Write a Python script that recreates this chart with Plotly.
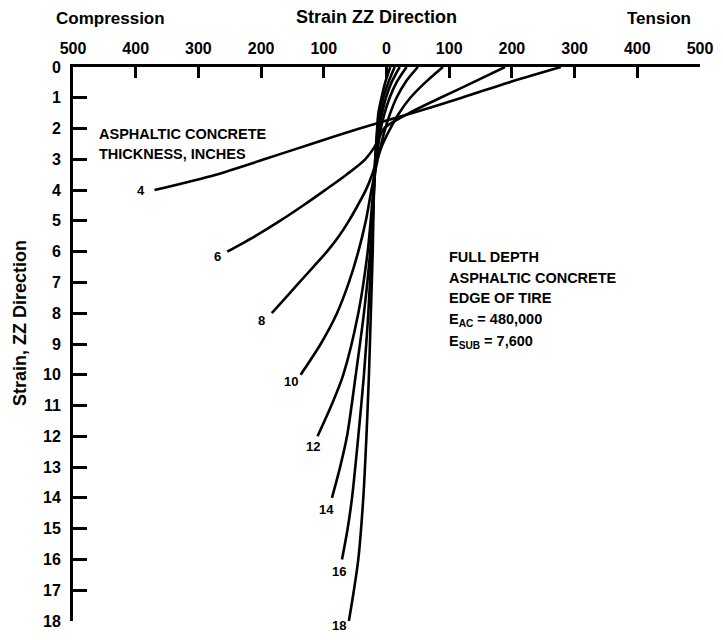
import plotly.graph_objects as go

# ---------------- data ----------------
thickness = [4, 6, 8, 10, 12, 14, 16, 18]

depth_4 = [0, 0.5, 1, 1.5, 2, 2.5, 3, 3.5, 4]
strain_4 = [278, 195, 120, 40, -43, -120, -195, -272, -370]

depth_6 = [0, 0.5, 1, 1.5, 2, 2.5, 3, 3.5, 4, 4.5, 5, 5.5, 6]
strain_6 = [189, 138, 86, 36, -4, -16, -34, -64, -98, -133, -170, -210, -254]

depth_8 = [0, 0.5, 1, 1.5, 2, 2.5, 3, 3.5, 4, 4.5, 5, 5.5, 6, 6.5, 7, 7.5, 8]
strain_8 = [90, 62, 38, 20, 6, -6, -15, -23, -33, -46, -60, -76, -95, -117, -139, -161, -183]

depth_10 = [0, 0.5, 1, 1.5, 2, 3, 4, 5, 6, 7, 8, 9, 10]
strain_10 = [50, 30, 16, 6, -2, -14, -24, -33, -45, -60, -79, -105, -137]

depth_12 = [0, 0.5, 1, 1.5, 2, 3, 4, 6, 8, 10, 11, 12]
strain_12 = [32, 16, 5, -3, -9, -16, -21, -30, -45, -69, -88, -110]

depth_14 = [0, 0.5, 1, 1.5, 2, 3, 4, 6, 8, 10, 12, 13, 14]
strain_14 = [21, 8, -1, -7, -12, -17, -20, -26, -36, -49, -63, -74, -87]

depth_16 = [0, 0.5, 1, 1.5, 2, 3, 4, 6, 8, 10, 12, 14, 15, 16]
strain_16 = [13, 3, -5, -10, -14, -18, -20, -24, -29, -36, -45, -55, -62, -71]

depth_18 = [0, 0.5, 1, 1.5, 2, 3, 4, 6, 8, 10, 12, 14, 16, 17, 18]
strain_18 = [6, -2, -8, -13, -15, -18, -20, -22, -25, -28, -32, -37, -45, -52, -60]

x_tickvals = [-500, -400, -300, -200, -100, 0, 100, 200, 300, 400, 500]
x_ticktext = ["500", "400", "300", "200", "100", "0", "100", "200", "300", "400", "500"]
y_tickvals = list(range(0, 19))
y_ticktext = [str(v) for v in y_tickvals]

depths = [depth_4, depth_6, depth_8, depth_10, depth_12, depth_14, depth_16, depth_18]
strains = [strain_4, strain_6, strain_8, strain_10, strain_12, strain_14, strain_16, strain_18]

# ---------------- styling ----------------
label_xshift = [-14, -10, -10, -10, -5, -5, -3, -10]
label_yshift = [0, -5, -7, -7, -10, -12, -12, -4]

FONT = "Liberation Sans, Arial, sans-serif"

fig = go.Figure()
for d, s in zip(depths, strains):
    fig.add_trace(go.Scatter(
        x=s, y=d, mode="lines",
        line=dict(color="black", width=2.6, shape="spline", smoothing=0.8),
        hoverinfo="skip", showlegend=False,
    ))

for t, d, s, dx, dy in zip(thickness, depths, strains, label_xshift, label_yshift):
    fig.add_annotation(
        x=s[-1], y=d[-1], xref="x", yref="y", text=str(t), showarrow=False,
        xshift=dx, yshift=dy,
        font=dict(family=FONT, size=13, color="black", weight="bold"),
    )

fig.update_layout(
    width=723, height=640,
    margin=dict(l=73, r=20, t=67, b=10),
    plot_bgcolor="white", paper_bgcolor="white",
    showlegend=False,
    xaxis=dict(
        side="top", range=[-500, 500],
        tickvals=x_tickvals, ticktext=x_ticktext,
        ticks="inside", ticklen=11, tickwidth=2.5, tickcolor="black",
        showline=True, linewidth=3, linecolor="black",
        showgrid=False, zeroline=False,
        tickfont=dict(family=FONT, size=16, color="black", weight="bold"),
        ticklabelstandoff=4,
    ),
    yaxis=dict(
        range=[18, 0],
        tickvals=y_tickvals, ticktext=y_ticktext,
        ticks="inside", ticklen=14, tickwidth=2.5, tickcolor="black",
        showline=True, linewidth=3, linecolor="black",
        showgrid=False, zeroline=False,
        tickfont=dict(family=FONT, size=16, color="black", weight="bold"),
        ticklabelstandoff=6,
    ),
)

def paper_x(px):
    return (px - 73) / 630.0

def paper_y(py):
    return (630 - py) / 563.0

top_font = dict(family=FONT, size=17, color="black", weight="bold")
fig.add_annotation(text="Compression", xref="paper", yref="paper",
                   x=paper_x(111), y=paper_y(18), showarrow=False,
                   xanchor="center", yanchor="middle", font=top_font)
fig.add_annotation(text="Strain ZZ Direction", xref="paper", yref="paper",
                   x=paper_x(378), y=paper_y(16), showarrow=False,
                   xanchor="center", yanchor="middle",
                   font=dict(family=FONT, size=18, color="black", weight="bold"))
fig.add_annotation(text="Tension", xref="paper", yref="paper",
                   x=paper_x(662), y=paper_y(18), showarrow=False,
                   xanchor="center", yanchor="middle", font=top_font)
fig.add_annotation(text="Strain, ZZ Direction", xref="paper", yref="paper",
                   x=paper_x(20), y=paper_y(327), showarrow=False, textangle=-90,
                   xanchor="center", yanchor="middle",
                   font=dict(family=FONT, size=18, color="black", weight="bold"))

note_font = dict(family=FONT, size=14.5, color="black", weight="bold")
left_lines = ["ASPHALTIC CONCRETE", "THICKNESS, INCHES"]
left_rows = [135, 155]
for txt, py in zip(left_lines, left_rows):
    fig.add_annotation(text=txt, xref="paper", yref="paper",
                       x=paper_x(97), y=paper_y(py), showarrow=False,
                       xanchor="left", yanchor="middle", font=note_font)

right_lines = ["FULL DEPTH", "ASPHALTIC CONCRETE", "EDGE OF TIRE",
               "E<sub>AC</sub> = 480,000", "E<sub>SUB</sub> = 7,600"]
right_rows = [260, 281, 302, 324, 346]
for txt, py in zip(right_lines, right_rows):
    fig.add_annotation(text=txt, xref="paper", yref="paper",
                       x=paper_x(449), y=paper_y(py), showarrow=False,
                       xanchor="left", yanchor="middle", font=note_font)

fig.write_html("out.html")
